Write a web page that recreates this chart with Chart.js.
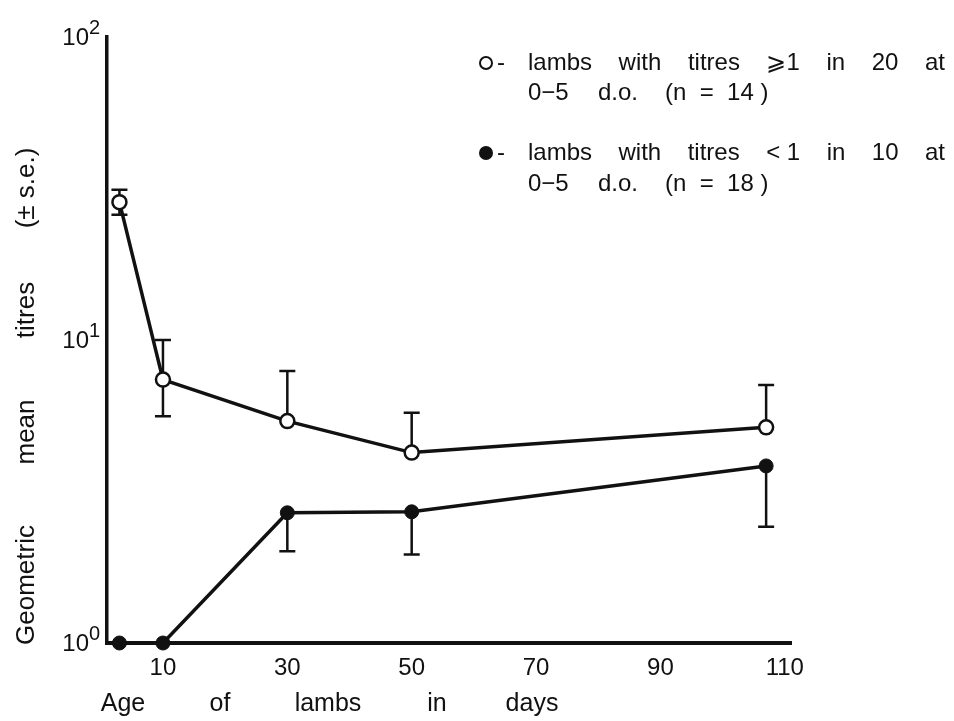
<!DOCTYPE html>
<html>
<head>
<meta charset="utf-8">
<script src="https://cdn.jsdelivr.net/npm/chart.js@4/dist/chart.umd.min.js"></script>
<style>
  html, body { margin: 0; background: #fff; }
  #wrap { width: 954px; height: 721px; }
</style>
</head>
<body>
<div id="wrap"><canvas id="chart" width="954" height="721"></canvas></div>
<script>
// Geometric mean titres of lambs by age (log scale)

const ageDays = [3, 10, 30, 50, 107];

// open circles: lambs with titres >= 1 in 20 at 0-5 d.o.
const highTitre = [28.5, 7.4, 5.4, 4.25, 5.15];
const highTitreUp = [31.3, 10.0, 7.9, 5.75, 7.1];
const highTitreDown = [25.9, 5.6, null, null, null];

// filled circles: lambs with titres < 1 in 10 at 0-5 d.o.
const lowTitre = [1, 1, 2.69, 2.71, 3.84];
const lowTitreUp = [null, null, null, null, null];
const lowTitreDown = [null, null, 2.01, 1.96, 2.42];

const xTicks = [10, 30, 50, 70, 90, 110];
const yTicks = [1, 10, 100];
const yExponents = ['0', '1', '2'];

const FONT = '"Liberation Sans", Arial, Helvetica, sans-serif';
const INK = '#111';

// --- error bars (drawn under the markers) ---
const errorBars = {
    id: 'errorBars',
    beforeDatasetsDraw(chart) {
        const ctx = chart.ctx;
        const ys = chart.scales.y;
        ctx.save();
        ctx.strokeStyle = INK;
        ctx.lineWidth = 2.5;
        chart.data.datasets.forEach((ds, di) => {
            const meta = chart.getDatasetMeta(di);
            meta.data.forEach((pt, i) => {
                [ds.errUp[i], ds.errDown[i]].forEach(v => {
                    if (v == null) return;
                    const y = ys.getPixelForValue(v);
                    ctx.beginPath();
                    ctx.moveTo(pt.x, pt.y);
                    ctx.lineTo(pt.x, y);
                    ctx.moveTo(pt.x - 8, y);
                    ctx.lineTo(pt.x + 8, y);
                    ctx.stroke();
                });
            });
        });
        ctx.restore();
    }
};

function justify(ctx, words, x0, x1, y) {
    const widths = words.map(w => ctx.measureText(w).width);
    const total = widths.reduce((a, b) => a + b, 0);
    const gap = (x1 - x0 - total) / (words.length - 1);
    let x = x0;
    words.forEach((w, i) => {
        ctx.fillText(w, x, y);
        x += widths[i] + gap;
    });
}

// --- labels, ticks with superscripts, legend ---
const annotations = {
    id: 'annotations',
    afterDraw(chart) {
        const ctx = chart.ctx;
        const xs = chart.scales.x, ys = chart.scales.y;
        ctx.save();
        ctx.fillStyle = INK;
        ctx.strokeStyle = INK;

        // y tick labels 10^n
        yTicks.forEach((v, i) => {
            const y = ys.getPixelForValue(v) + 1;
            ctx.font = '24px ' + FONT;
            ctx.textAlign = 'right';
            ctx.textBaseline = 'middle';
            ctx.fillText('10', 89, y);
            ctx.font = '20px ' + FONT;
            ctx.textAlign = 'left';
            ctx.fillText(yExponents[i], 89, y - 10);
        });

        // x tick labels
        ctx.font = '24px ' + FONT;
        ctx.textAlign = 'center';
        ctx.textBaseline = 'middle';
        xTicks.forEach(v => {
            ctx.fillText(String(v), xs.getPixelForValue(v), 668);
        });

        // x axis title, words spread out
        ctx.font = '25px ' + FONT;
        [['Age', 123], ['of', 220], ['lambs', 328], ['in', 437], ['days', 532]].forEach(([w, x]) => {
            ctx.fillText(w, x, 704);
        });

        // y axis title, rotated
        ctx.font = '26px ' + FONT;
        [['Geometric', 585], ['mean', 432], ['titres', 310], ['(± s.e.)', 188]].forEach(([w, y]) => {
            ctx.save();
            ctx.translate(27, y);
            ctx.rotate(-Math.PI / 2);
            ctx.fillText(w, 0, 0);
            ctx.restore();
        });

        // legend
        ctx.font = '24px ' + FONT;
        ctx.textAlign = 'left';
        ctx.textBaseline = 'middle';
        ctx.lineWidth = 2;
        ctx.beginPath();
        ctx.arc(486, 63, 6, 0, Math.PI * 2);
        ctx.fillStyle = '#fff';
        ctx.fill();
        ctx.stroke();
        ctx.fillStyle = INK;
        ctx.fillText('-', 497, 63);
        justify(ctx, ['lambs', 'with', 'titres', '\u2A7E1', 'in', '20', 'at'], 528, 945, 63);
        ctx.fillText('0\u22125', 528, 93);
        ctx.fillText('d.o.', 598, 93);
        ctx.fillText('(n  =  14 )', 665, 93);

        ctx.beginPath();
        ctx.arc(486, 153, 7, 0, Math.PI * 2);
        ctx.fill();
        ctx.fillText('-', 497, 153);
        justify(ctx, ['lambs', 'with', 'titres', '< 1', 'in', '10', 'at'], 528, 945, 153);
        ctx.fillText('0\u22125', 528, 184);
        ctx.fillText('d.o.', 598, 184);
        ctx.fillText('(n  =  18 )', 665, 184);

        ctx.restore();
    }
};

new Chart(document.getElementById('chart'), {
    type: 'line',
    data: {
        datasets: [
            {
                label: 'lambs with titres >= 1 in 20 at 0-5 d.o. (n = 14)',
                data: ageDays.map((d, i) => ({ x: d, y: highTitre[i] })),
                errUp: highTitreUp,
                errDown: highTitreDown,
                borderColor: INK,
                borderWidth: 3.5,
                pointRadius: 7,
                pointBorderWidth: 2.5,
                pointBackgroundColor: '#fff',
                pointBorderColor: INK,
                tension: 0,
                clip: false
            },
            {
                label: 'lambs with titres < 1 in 10 at 0-5 d.o. (n = 18)',
                data: ageDays.map((d, i) => ({ x: d, y: lowTitre[i] })),
                errUp: lowTitreUp,
                errDown: lowTitreDown,
                borderColor: INK,
                borderWidth: 3.5,
                pointRadius: 7,
                pointBorderWidth: 1,
                pointBackgroundColor: INK,
                pointBorderColor: INK,
                tension: 0,
                clip: false
            }
        ]
    },
    options: {
        responsive: false,
        animation: false,
        devicePixelRatio: 1,
        layout: { padding: { top: 37, right: 163, left: 0, bottom: 0 } },
        plugins: {
            legend: { display: false },
            tooltip: { enabled: false }
        },
        scales: {
            x: {
                type: 'linear',
                min: 1,
                max: 111,
                grid: { display: false, drawTicks: false },
                border: { display: true, color: INK, width: 4 },
                ticks: { display: false },
                afterFit: s => { s.height = 78; }
            },
            y: {
                type: 'logarithmic',
                min: 1,
                max: 100,
                grid: { display: false, drawTicks: false },
                border: { display: true, color: INK, width: 3.5 },
                ticks: { display: false },
                afterFit: s => { s.width = 107; }
            }
        }
    },
    plugins: [errorBars, annotations]
});
</script>
</body>
</html>
